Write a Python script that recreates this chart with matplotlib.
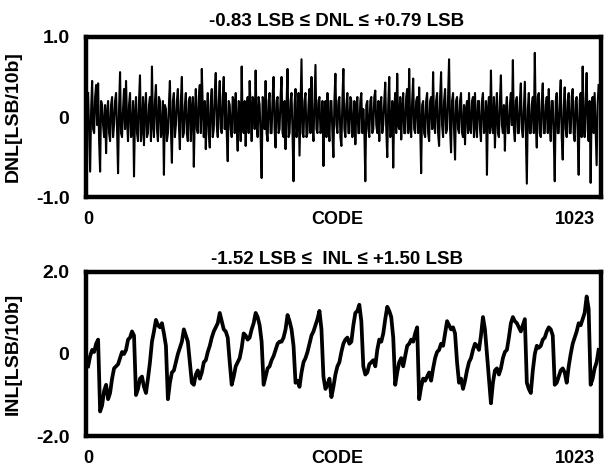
import numpy as np
import matplotlib
matplotlib.use("Agg")
import matplotlib.pyplot as plt

plt.rcParams['font.family'] = ['Liberation Sans', 'DejaVu Sans']
plt.rcParams['font.weight'] = 'bold'

dnl_title = "-0.83 LSB \u2264 DNL \u2264 +0.79 LSB"
inl_title = "-1.52 LSB \u2264  INL \u2264 +1.50 LSB"
x_ticklabels = ["0", "CODE", "1023"]
dnl_yticklabels = ["1.0", "0", "-1.0"]
inl_yticklabels = ["2.0", "0", "-2.0"]

# DNL at codes 0, 4, 8, ...
dnl_even = [
    0.30, -0.68, 0.45, -0.20, 0.40, 0.42, -0.68, 0.15, -0.25, -0.45,
    0.20, -0.30, 0.25, -0.10, 0.30, -0.70, 0.56, -0.25, 0.35, 0.45,
    -0.30, 0.30, -0.20, -0.74, 0.25, -0.30, 0.52, -0.15, -0.35, 0.30,
    -0.20, 0.25, 0.63, -0.25, 0.40, -0.30, 0.20, -0.15, -0.72, 0.10,
    -0.20, 0.45, -0.57, 0.30, -0.10, 0.35, -0.40, 0.50, -0.20, 0.30,
    -0.30, 0.25, 0.10, -0.62, 0.35, -0.20, 0.40, 0.60, -0.25, -0.40,
    0.30, -0.38, 0.35, -0.15, 0.55, -0.25, 0.45, -0.20, 0.50, 0.30,
    -0.55, 0.15, -0.25, 0.20, 0.30, -0.42, 0.15, 0.63, -0.20, -0.36,
    0.25, 0.45, -0.30, 0.20, 0.58, -0.25, 0.15, -0.76, 0.20, 0.45,
    -0.30, 0.30, -0.20, 0.50, -0.38, 0.25, -0.15, 0.50, -0.25, -0.40,
    0.60, -0.20, 0.30, -0.80, 0.35, -0.10, -0.48, 0.72, -0.25, 0.30,
    -0.20, 0.35, 0.50, -0.30, 0.65, -0.20, 0.25, -0.15, -0.61, 0.20,
    0.30, -0.30, 0.20, -0.50, 0.54, -0.20, 0.25, -0.36, 0.60, -0.25,
    0.30, -0.20, 0.20, -0.10, -0.34, 0.25, -0.20, 0.30, 0.10, -0.80,
    0.20, -0.25, 0.25, -0.15, 0.33, -0.20, -0.30, 0.25, -0.10, 0.43,
    -0.50, 0.50, -0.20, -0.63, 0.30, 0.54, -0.15, -0.28, 0.30, -0.20,
    0.35, 0.60, -0.25, 0.48, -0.20, 0.25, 0.37, -0.70, 0.20, -0.25,
    0.30, -0.30, 0.25, 0.56, -0.20, 0.30, -0.36, 0.56, -0.25, 0.35,
    -0.15, 0.72, -0.44, 0.30, -0.53, 0.25, -0.20, 0.30, -0.25, -0.34,
    0.20, 0.30, -0.20, 0.25, 0.30, -0.25, 0.20, -0.30, 0.30, -0.15,
    -0.72, 0.25, 0.58, -0.20, -0.38, 0.30, -0.25, 0.52, -0.20, -0.42,
    0.25, -0.20, 0.30, 0.71, -0.30, 0.25, -0.20, 0.42, -0.25, 0.44,
    -0.83, 0.30, -0.20, 0.25, 0.80, -0.38, 0.30, -0.25, 0.42, -0.20,
    0.25, 0.35, -0.30, 0.20, -0.80, 0.30, -0.20, 0.46, -0.53, 0.37,
    -0.25, 0.30, -0.20, 0.35, -0.30, 0.25, -0.72, 0.30, 0.63, -0.25,
    0.55, -0.30, -0.82, 0.25, 0.30, -0.60, 0.40,
]

# DNL at codes 2, 6, 10, ...
dnl_odd = [
    -0.20, 0.10, -0.15, 0.25, -0.10, -0.30, 0.20, -0.10, 0.15, 0.05,
    -0.20, 0.15, -0.25, 0.20, -0.15, 0.10, -0.20, 0.10, -0.15, -0.05,
    0.15, -0.25, 0.20, 0.05, -0.20, 0.20, -0.30, 0.25, 0.10, -0.25,
    0.15, -0.30, -0.10, 0.20, -0.15, 0.25, -0.25, 0.20, 0.15, -0.30,
    0.15, -0.15, 0.20, -0.25, 0.20, -0.10, 0.20, -0.25, 0.15, -0.20,
    0.20, -0.30, 0.25, 0.05, -0.15, 0.25, -0.20, 0.10, 0.20, 0.05,
    -0.20, 0.20, -0.25, 0.30, -0.10, 0.20, -0.15, 0.25, -0.15, -0.20,
    0.20, -0.15, 0.25, -0.20, -0.10, 0.20, -0.30, -0.10, 0.20, 0.10,
    -0.20, 0.10, 0.25, -0.15, -0.10, 0.25, -0.25, 0.25, -0.15, -0.20,
    0.20, -0.20, 0.25, -0.15, 0.20, -0.20, 0.25, -0.20, 0.20, 0.15,
    -0.25, 0.20, -0.20, 0.15, -0.25, 0.30, 0.10, -0.20, 0.20, -0.25,
    0.15, -0.20, -0.10, 0.20, -0.15, 0.20, -0.20, 0.20, 0.05, -0.25,
    -0.10, 0.20, -0.20, 0.20, -0.10, 0.20, -0.25, 0.20, -0.15, 0.15,
    -0.20, 0.25, -0.25, 0.20, 0.10, -0.20, 0.20, -0.20, -0.15, 0.15,
    -0.15, 0.20, -0.20, 0.25, -0.10, 0.20, 0.15, -0.20, 0.20, -0.15,
    0.15, -0.25, 0.20, 0.10, -0.20, -0.10, 0.25, 0.10, -0.20, 0.25,
    -0.20, -0.10, 0.20, -0.15, 0.20, -0.20, -0.10, 0.15, -0.20, 0.20,
    -0.20, 0.20, -0.15, -0.10, 0.20, -0.20, 0.25, -0.10, 0.20, -0.20,
    0.25, -0.15, 0.20, -0.15, 0.20, -0.15, 0.20, -0.20, 0.15, 0.10,
    -0.20, -0.15, 0.20, -0.25, -0.10, 0.20, -0.15, 0.20, -0.20, 0.20,
    0.10, -0.20, -0.10, 0.25, 0.05, -0.20, 0.20, -0.10, 0.15, 0.10,
    -0.20, 0.15, -0.10, -0.15, 0.20, -0.20, 0.20, -0.15, 0.10, -0.20,
    0.10, -0.20, 0.15, -0.20, -0.10, 0.25, -0.20, 0.20, -0.20, 0.15,
    -0.20, -0.10, 0.20, -0.25, 0.20, -0.20, 0.20, -0.25, 0.10, -0.15,
    0.20, -0.20, 0.25, -0.20, 0.20, -0.20, 0.20, -0.25, -0.10, 0.20,
    -0.15, 0.20, 0.15, -0.20, -0.15, 0.15,
]

# INL at codes 0, 8, 16, ...
inl_even = [
    -0.30, 0.10, 0.25, -1.40, -0.90, -1.10, -0.60, -0.30, -0.10, 0.00,
    0.35, 0.55, -1.00, -0.60, -0.80, -0.60, 0.30, 0.83, 0.65, 0.50,
    -1.10, -0.45, -0.20, 0.15, 0.60, 0.30, -0.70, -0.50, -0.60, -0.20,
    0.05, 0.40, 0.65, 1.00, 0.60, 0.40, -0.75, -0.30, -0.10, 0.50,
    0.35, 0.60, 1.00, 0.70, -0.75, -0.35, -0.15, 0.10, 0.30, 0.40,
    0.95, 0.60, -0.70, -0.80, -0.20, 0.05, 0.45, 0.70, 1.05, -0.55,
    -0.75, -1.05, -0.50, -0.20, 0.25, 0.40, 0.30, 1.00, 1.20, -0.30,
    -0.45, -0.20, -0.30, 0.35, 0.50, 1.15, 0.90, -0.75, -0.20, -0.30,
    0.20, 0.35, 0.50, -1.10, -0.60, -0.55, -0.65, -0.10, 0.10, 0.20,
    0.80, 0.60, 0.50, -0.70, -0.85, -0.40, -0.10, 0.25, 0.10, 0.90,
    0.00, -1.20, -0.40, -0.50, -0.10, 0.10, 0.75, 0.80, 0.65, 0.70,
    -0.70, -0.95, 0.00, 0.15, 0.35, 0.55, 0.60, -0.75, -0.55, -0.35,
    -0.70, 0.00, 0.40, 0.75, 0.85, 1.40, -0.75, -0.35, 0.10,
]

# INL at codes 4, 12, 20, ...
inl_odd = [
    -0.05, 0.05, 0.35, -1.25, -0.75, -0.95, -0.35, -0.25, 0.05, 0.10,
    0.40, 0.45, -0.85, -0.55, -0.95, -0.20, 0.55, 0.70, 0.75, 0.20,
    -0.70, -0.40, 0.00, 0.30, 0.45, -0.20, -0.75, -0.40, -0.45, -0.15,
    0.20, 0.55, 0.75, 0.80, 0.55, -0.20, -0.55, -0.20, 0.15, 0.45,
    0.40, 0.75, 0.90, 0.30, -0.55, -0.30, -0.05, 0.25, 0.30, 0.60,
    0.80, 0.20, -0.65, -0.45, -0.10, 0.25, 0.55, 0.85, 0.60, -0.85,
    -0.60, -0.80, -0.30, 0.05, 0.35, 0.25, 0.70, 1.05, 0.80, -0.50,
    -0.25, -0.15, 0.10, 0.30, 0.85, 1.05, 0.40, -0.45, -0.10, -0.05,
    0.25, 0.30, 0.65, -0.80, -0.65, -0.45, -0.35, 0.05, 0.25, 0.50,
    0.70, 0.65, -0.20, -0.60, -0.65, -0.20, 0.10, 0.20, 0.45, 0.60,
    -0.60, -0.70, -0.35, -0.35, 0.05, 0.40, 0.90, 0.75, 0.55, 0.85,
    -0.85, -0.40, 0.20, 0.20, 0.40, 0.65, 0.45, -0.70, -0.40, -0.45,
    -0.30, 0.25, 0.55, 0.70, 1.00, 1.10, -0.60, -0.20,
]

def interleave(a, b):
    out = []
    for i, v in enumerate(a):
        out.append(v)
        if i < len(b):
            out.append(b[i])
    return out

dnl = interleave(dnl_even, dnl_odd)
inl = interleave(inl_even, inl_odd)
dnl_code = np.linspace(0, 1023, len(dnl))
inl_code = np.linspace(0, 1023, len(inl))

fig = plt.figure(figsize=(6.11, 4.72), dpi=100)
ax1 = fig.add_axes([0.141, 0.582, 0.842, 0.340])
ax2 = fig.add_axes([0.141, 0.076, 0.842, 0.348])

def style(ax, ylim, yticklabels, ylabel, title, title_pad):
    ax.set_xlim(-4, 1027)
    ax.set_ylim(-ylim, ylim)
    ax.set_yticks([ylim, 0, -ylim])
    ax.set_yticklabels(yticklabels)
    ax.set_xticks([0, 500, 976])
    ax.set_xticklabels(x_ticklabels)
    ax.tick_params(length=0)
    ax.tick_params(axis='x', labelsize=13, pad=10)
    ax.tick_params(axis='y', labelsize=14, pad=12)
    for s in ax.spines.values():
        s.set_linewidth(3.2)
        s.set_color('black')
    ax.set_ylabel(ylabel, fontsize=14, fontweight='bold')
    ax.yaxis.set_label_coords(-0.125, 0.5)
    ax.set_title(title, fontsize=13.5, fontweight='bold', pad=title_pad, x=0.487)

ax1.plot(dnl_code, dnl, color='black', linewidth=1.5)
style(ax1, 1.0, dnl_yticklabels, "DNL[LSB/10b]", dnl_title, 8)

ax2.plot(inl_code, inl, color='black', linewidth=2.7)
style(ax2, 2.0, inl_yticklabels, "INL[LSB/10b]", inl_title, 6)

fig.savefig("out.png", dpi=100)
